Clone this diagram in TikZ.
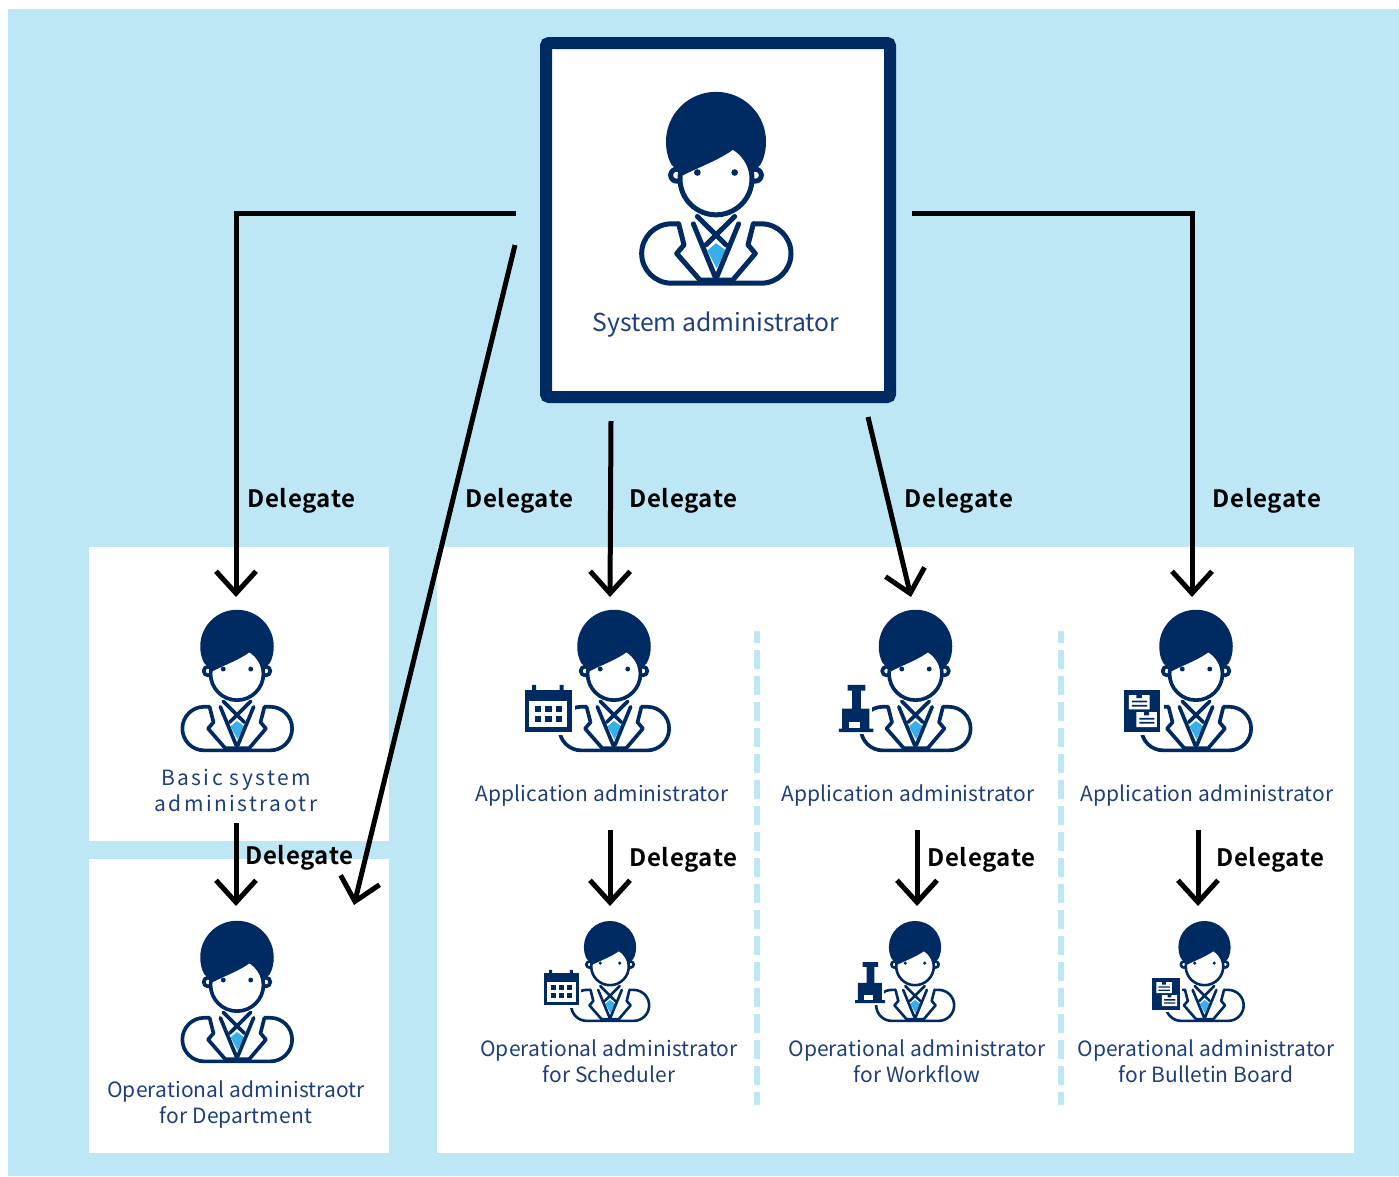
\documentclass[tikz,border=0pt]{standalone}
\usepackage{fontspec}
\usetikzlibrary{arrows.meta}
\setmainfont{Noto Sans CJK JP}
\newfontfamily\lab[LetterSpace=0.6]{Noto Sans CJK JP}
\newfontfamily\labw[LetterSpace=11.5]{Noto Sans CJK JP}
\newfontfamily\dfont[BoldFont={Noto Sans CJK JP Bold},LetterSpace=3]{Noto Sans CJK JP}
\definecolor{navy}{HTML}{002B62}
\definecolor{txt}{HTML}{1F3F7A}
\definecolor{sky}{HTML}{BEE7F6}
\definecolor{tie}{HTML}{36B0EA}
\tikzset{
  panel/.style={fill=white,draw=none},
  deleg/.style={line width=5pt,black,-{Straight Barb[length=22pt,width=40pt,line width=5pt]}},
  dlabel/.style={font=\dfont\fontsize{24}{28}\selectfont\bfseries,black,inner sep=0pt},
  alabel/.style={font=\lab\fontsize{21}{26}\selectfont,txt,align=center,inner sep=0pt},
  sep/.style={sky,line width=6pt,dash pattern=on 19pt off 7pt,dash phase=7pt},
}
% person icon: x, y, scale, extra local drawing
\newcommand{\personicon}[4]{%
\begin{scope}[shift={(#1,#2)},x=#3pt,y=-#3pt,line join=round,line cap=round]
\begin{scope}[xshift={-288*#3 pt},yshift={330*#3 pt}]
\tikzset{every path/.append style={line width={15*#3}}}
\draw[navy,fill=white] (154,427) -- (424,427) arc[start angle=-90,end angle=90,radius=89] -- (154,605) arc[start angle=90,end angle=270,radius=89] -- cycle;
\fill[white] (178,417) -- (398,417) -- (406,516) -- (338,597) -- (240,597) -- (170,516) -- cycle;
\fill[tie] (288,485) -- (318,507) -- (290,560) -- (262,507) -- cycle;
\draw[navy] (176,427) -- (192,490) -- (170,516) -- (240,596) -- (338,596) -- (406,516) -- (384,490) -- (400,427);
\draw[navy] (220,427) -- (285,585) (356,427) -- (291,585);
\draw[navy] (232,405) -- (318,490) (344,405) -- (258,490);
\draw[navy,fill=white] (170,281) circle[radius=18];
\draw[navy,fill=white] (406,281) circle[radius=18];
\draw[navy,fill=white] (288,292) circle[radius=108];
\fill[navy] (288,31) .. controls (205,31) and (138,98) .. (138,180) .. controls (138,205) and (143,230) .. (155,250) -- (188,282) .. controls (240,255) and (300,235) .. (345,200) -- (398,272) -- (421,250) .. controls (433,230) and (438,205) .. (438,180) .. controls (438,98) and (371,31) .. (288,31) -- cycle;
\fill[navy] (232,273) circle[radius=10] (344,273) circle[radius=10];
#4
\end{scope}
\end{scope}}
\newcommand{\calicon}{%
\fill[white] (-88,343) rectangle (129,544);
\fill[navy] (-74,357) rectangle (115,530);
\fill[white] (-57,402) rectangle (97,510);
\fill[navy] (-46,338) rectangle (-30,378) (66,338) rectangle (82,378);
\foreach \cx in {-23,20,64}{\foreach \cy in {435,476}{\fill[navy] (\cx-13,\cy-13) rectangle (\cx+13,\cy+13);}}}
\newcommand{\stampicon}{%
\fill[white] (-30,425) rectangle (112,540);
\fill[navy] (11,338) rectangle (83,361) (29,361) rectangle (65,435) (-12,435) rectangle (100,516) (-25,516) rectangle (116,530);
\fill[white] (18,490) rectangle (60,514);}
\newcommand{\boardicon}{%
\fill[white] (-21,343) rectangle (156,544);
\fill[navy] (-7,357) rectangle (142,530);
\fill[white] (14,379) rectangle (99,438) (45,449) rectangle (128,510);
\fill[navy] (45,379) rectangle (67,392) (76,449) rectangle (97,462);
\fill[navy] (26,402) rectangle (88,409) (26,419) rectangle (88,426) (57,472) rectangle (118,479) (57,489) rectangle (118,496);}
\newcommand{\calsmall}{\begin{scope}[shift={(-12.6,-46)},scale=1.06]\calicon\end{scope}}
\newcommand{\stampsmall}{\begin{scope}[shift={(-26,-149)},scale=1.23]\stampicon\end{scope}}
\newcommand{\boardsmall}{\begin{scope}[shift={(-4,-15)},scale=1.05]\boardicon\end{scope}}
\begin{document}
\begin{tikzpicture}[x=1pt,y=-1pt]
\useasboundingbox (0,0) rectangle (1399,1176);
\fill[sky] (8,9) rectangle (1399,1176);
\fill[panel] (89,547) rectangle (389,841);
\fill[panel] (89,859) rectangle (389,1153);
\fill[panel] (437,547) rectangle (1354,1153);
\node[draw=navy,fill=white,line width=12pt,rounded corners=3pt,minimum width=344pt,minimum height=354pt,inner sep=0pt] (sys) at (718,220) {};
\coordinate (sep1a) at (757,631); \coordinate (sep1b) at (757,1105);
\coordinate (sep2a) at (1061,631); \coordinate (sep2b) at (1061,1105);
\draw[sep] (sep1a) -- (sep1b);
\draw[sep] (sep2a) -- (sep2b);

\personicon{716}{191.5}{0.3333}{}
\personicon{237}{683}{0.245}{}
\personicon{237}{994}{0.245}{}
\personicon{614}{683}{0.245}{\calicon}
\personicon{915.5}{683}{0.245}{\stampicon}
\personicon{1196}{683}{0.245}{\boardicon}
\personicon{610}{973}{0.174}{\calsmall}
\personicon{915}{973}{0.174}{\stampsmall}
\personicon{1204.5}{973}{0.174}{\boardsmall}

\node[font=\fontsize{24.7}{30}\selectfont,txt,inner sep=0pt] (tsys) at (716,325) {System administrator};
\node[alabel,font=\labw\fontsize{21}{26}\selectfont] (tbasic) at (236,790) {Basic system\\administraotr};
\node[alabel] (topd) at (236,1105) {Operational administraotr\\for Department};
\node[alabel] (tap1) at (602,796) {Application administrator};
\node[alabel] (tap2) at (908,796) {Application administrator};
\node[alabel] (tap3) at (1207,796) {Application administrator};
\node[alabel] (tos) at (609,1061) {Operational administrator\\for Scheduler};
\node[alabel] (tow) at (917,1061) {Operational administrator\\for Workflow};
\node[alabel] (tob) at (1206,1061) {Operational administrator\\for Bulletin Board};

\coordinate (s1) at (516,213); \coordinate (c1) at (236,213); \coordinate (e1) at (236,597);
\coordinate (s2) at (515,245); \coordinate (e2) at (354,905);
\coordinate (s3) at (611,421); \coordinate (e3) at (610,597);
\coordinate (s4) at (868,417); \coordinate (e4) at (911,597);
\coordinate (s5) at (912,213); \coordinate (c5) at (1192,213); \coordinate (e5) at (1192,597);
\coordinate (s6) at (236,823); \coordinate (e6) at (236,906);
\coordinate (s7) at (610,830); \coordinate (e7) at (610,906);
\coordinate (s8) at (917,830); \coordinate (e8) at (917,906);
\coordinate (s9) at (1198,830); \coordinate (e9) at (1198,906);
\draw[deleg] (s1) -- (c1) -- (e1);
\draw[deleg] (s2) -- (e2);
\draw[deleg] (s3) -- (e3);
\draw[deleg] (s4) -- (e4);
\draw[deleg] (s5) -- (c5) -- (e5);
\draw[deleg] (s6) -- (e6);
\draw[deleg] (s7) -- (e7);
\draw[deleg] (s8) -- (e8);
\draw[deleg] (s9) -- (e9);

\node[dlabel] (d1) at (301.5,501) {Delegate};
\node[dlabel] (d2) at (519.5,501) {Delegate};
\node[dlabel] (d3) at (683.5,501) {Delegate};
\node[dlabel] (d4) at (959,501) {Delegate};
\node[dlabel] (d5) at (1267,501) {Delegate};
\node[dlabel] (d6) at (299.5,858) {Delegate};
\node[dlabel] (d7) at (683.5,860) {Delegate};
\node[dlabel] (d8) at (981.5,860) {Delegate};
\node[dlabel] (d9) at (1270.5,860) {Delegate};
\end{tikzpicture}
\end{document}
